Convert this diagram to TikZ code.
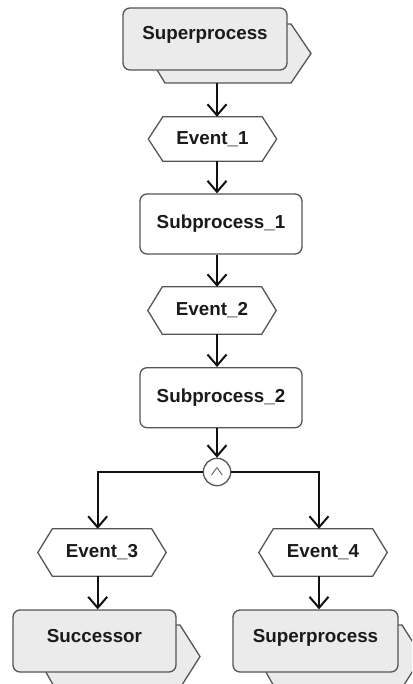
\documentclass[tikz,border=0pt]{standalone}
\usepackage{fontspec}
\setmainfont{Liberation Sans}
\usetikzlibrary{arrows.meta}
\definecolor{edgec}{HTML}{555555}
\definecolor{supfill}{HTML}{EBEBEB}
\definecolor{txtc}{HTML}{1A1A1A}
\definecolor{arrc}{HTML}{111111}
\newcommand\hexev[1]{\draw[hexa] (#1.west) -- ([xshift=14.5pt]#1.north west) -- ([xshift=-14.5pt]#1.north east) -- (#1.east) -- ([xshift=-14.5pt]#1.south east) -- ([xshift=14.5pt]#1.south west) -- cycle;}
\begin{document}
\begin{tikzpicture}[x=1pt,y=-1pt,
  lbl/.style={font=\fontsize{18.8}{21}\selectfont\bfseries, text=txtc},
  proc/.style={lbl, draw=edgec, line width=1.3pt, rounded corners=7pt, fill=white, minimum width=162pt, minimum height=60pt, inner sep=0pt},
  superfront/.style={proc, fill=supfill, minimum height=62pt, text height=13pt, text depth=11pt},
  superback/.style={draw=edgec, line width=1.3pt, fill=supfill, line join=miter},
  evt/.style={lbl, inner sep=0pt, minimum width=128pt, minimum height=47pt},
  hexa/.style={draw=edgec, line width=1.3pt},
  arr/.style={line width=2pt, draw=arrc, -{Straight Barb[length=11pt,width=19pt]}},
  junc/.style={circle, draw=edgec, line width=1.3pt, fill=white, minimum size=27.4pt, inner sep=0pt, font=\fontsize{15}{15}\selectfont\boldmath, text=edgec}
]
\clip (0,0) rectangle (412,684);
% back shapes of the process-interface nodes
\draw[superback] (147,53.5) -- (165,24) -- (291,24) -- (311,53.5) -- (291,83) -- (165,83) -- cycle;
\draw[superback] (37,656.5) -- (55,625) -- (180,625) -- (200,656.5) -- (180,688) -- (55,688) -- cycle;
\draw[superback] (257,656.5) -- (275,625) -- (402,625) -- (422,656.5) -- (402,688) -- (275,688) -- cycle;
% nodes
\node[superfront, minimum width=164pt] (sup1) at (205,39) {Superprocess};
\node[evt, minimum height=44pt] (e1) at (212.5,139) {Event\_1};
\node[proc] (s1) at (221,224) {Subprocess\_1};
\node[evt] (e2) at (212,310.5) {Event\_2};
\node[proc] (s2) at (221,397.7) {Subprocess\_2};
\node[junc] (j) at (217,472) {\scalebox{1.25}[0.9]{$\wedge$}};
\node[evt] (e3) at (102,552.5) {Event\_3};
\node[evt] (e4) at (323,552.5) {Event\_4};
\node[superfront, minimum width=163pt] (suc) at (94.5,641) {Successor};
\node[superfront, minimum width=165pt] (sup2) at (315.5,641) {Superprocess};
\hexev{e1}\hexev{e2}\hexev{e3}\hexev{e4}
% connector coordinates
\coordinate (colx) at (217,0);
\coordinate (leftx) at (97.7,0);
\coordinate (rightx) at (319,0);
\coordinate (sup1out) at (217,83);
% connectors
\draw[arr] (sup1out) -- (sup1out |- e1.north);
\draw[arr] (e1.south -| colx) -- (s1.north -| colx);
\draw[arr] (s1.south -| colx) -- (e2.north -| colx);
\draw[arr] (e2.south -| colx) -- (s2.north -| colx);
\draw[arr] (s2.south -| colx) -- (j.north);
\draw[arr] (j.west) -- (j.west -| leftx) -- (e3.north -| leftx);
\draw[arr] (j.east) -- (j.east -| rightx) -- (e4.north -| rightx);
\draw[arr] (e3.south -| leftx) -- (suc.north -| leftx);
\draw[arr] (e4.south -| rightx) -- (sup2.north -| rightx);
\end{tikzpicture}
\end{document}
